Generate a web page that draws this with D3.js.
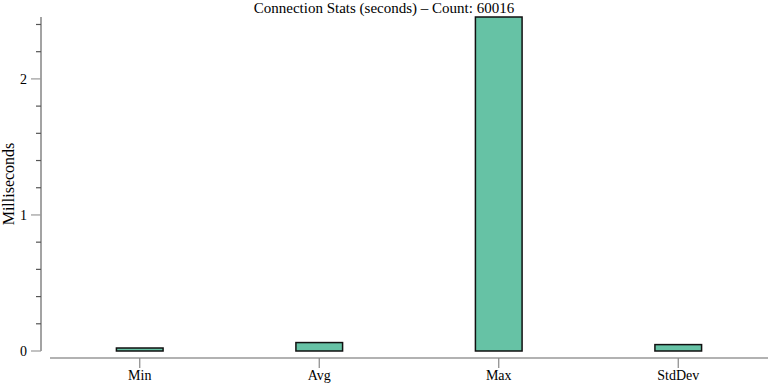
<!DOCTYPE html>
<html>
<head>
<meta charset="utf-8">
<script src="https://cdn.jsdelivr.net/npm/d3@7"></script>
<style>
  body { margin: 0; background: #fff; }
  text { font-family: "Liberation Serif", "DejaVu Serif", serif; }
</style>
</head>
<body>
<svg id="chart" width="768" height="384"></svg>
<script>
    var categories = ["Min", "Avg", "Max", "StdDev"];
    var values = [0.022, 0.062, 2.455, 0.047];
    var yTicks = [0, 0.2, 0.4, 0.6, 0.8, 1, 1.2, 1.4, 1.6, 1.8, 2, 2.2, 2.4];

    var svg = d3.select("#chart");

    var x = d3.scaleBand()
        .domain(categories)
        .range([50, 768])
        .paddingInner(0.74)
        .paddingOuter(0.37);

    var y = d3.scaleLinear()
        .domain([0, d3.max(values)])
        .range([351, 17]);

    // title
    svg.append("text")
        .attr("x", 384)
        .attr("y", 13)
        .attr("text-anchor", "middle")
        .attr("font-size", "15px")
        .text("Connection Stats (seconds) \u2013 Count: 60016");

    // y axis line
    svg.append("line")
        .attr("x1", 41).attr("x2", 41)
        .attr("y1", 17).attr("y2", y(0))
        .attr("stroke", "#666").attr("stroke-width", 1.2);

    var yt = svg.selectAll(".ytick").data(yTicks).enter().append("g")
        .attr("class", "ytick")
        .attr("transform", function(d){ return "translate(0," + y(d) + ")"; });

    yt.append("line")
        .attr("x1", function(d){ return Number.isInteger(d) ? 31 : 36; })
        .attr("x2", 41)
        .attr("stroke", function(d){ return Number.isInteger(d) ? "#999" : "#555"; })
        .attr("stroke-width", 1.2);

    yt.filter(function(d){ return Number.isInteger(d); })
        .append("text")
        .attr("x", 27)
        .attr("dy", "0.35em")
        .attr("text-anchor", "end")
        .attr("font-size", "14px")
        .text(function(d){ return d; });

    // y label
    svg.append("text")
        .attr("transform", "translate(14," + 184 + ") rotate(-90)")
        .attr("text-anchor", "middle")
        .attr("font-size", "16px")
        .text("Milliseconds");

    // x axis
    svg.append("line")
        .attr("x1", 50).attr("x2", 768)
        .attr("y1", 358).attr("y2", 358)
        .attr("stroke", "#666").attr("stroke-width", 1.2);

    var xt = svg.selectAll(".xtick").data(categories).enter().append("g")
        .attr("class", "xtick")
        .attr("transform", function(d){ return "translate(" + (x(d) + x.bandwidth() / 2) + ",0)"; });

    xt.append("line")
        .attr("y1", 358).attr("y2", 368)
        .attr("stroke", "#888").attr("stroke-width", 1.2);

    xt.append("text")
        .attr("y", 380)
        .attr("text-anchor", "middle")
        .attr("font-size", "14px")
        .text(function(d){ return d; });

    // bars
    svg.selectAll(".bar").data(values).enter().append("rect")
        .attr("class", "bar")
        .attr("x", function(d, i){ return x(categories[i]); })
        .attr("width", x.bandwidth())
        .attr("y", function(d){ return y(d); })
        .attr("height", function(d){ return y(0) - y(d); })
        .attr("fill", "#66c2a5")
        .attr("stroke", "#111")
        .attr("stroke-width", 1.5);
</script>
</body>
</html>
